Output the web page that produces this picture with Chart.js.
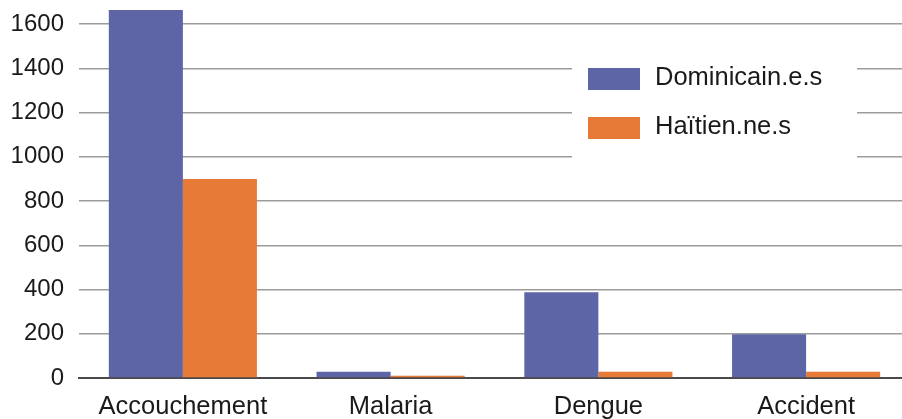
<!DOCTYPE html>
<html>
<head>
<meta charset="utf-8">
<script src="https://cdn.jsdelivr.net/npm/chart.js@4.4.1/dist/chart.umd.min.js"></script>
<style>
  html, body { margin: 0; padding: 0; background: #fff; overflow: hidden; }
  #wrap { width: 910px; height: 419px; position: relative; }
</style>
</head>
<body>
<div id="wrap"><canvas id="c"></canvas></div>
<script>
// Categories and series
const categories = ['Accouchement', 'Malaria', 'Dengue', 'Accident'];
const dominicains = [1700, 28, 388, 198];
const haitiens = [900, 10, 28, 28];
const seriesLabels = ['Dominicain.e.s', 'Haïtien.ne.s'];
const yTicks = [0, 200, 400, 600, 800, 1000, 1200, 1400, 1600];

const BLUE = '#5e65a6';
const ORANGE = '#e87a37';
const FONT = 'Liberation Sans, Arial, Helvetica, sans-serif';

// Legend drawn as a white box over the gridlines, inside the plot area
const boxLegend = {
  id: 'boxLegend',
  afterDatasetsDraw(chart) {
    const ctx = chart.ctx;
    ctx.save();
    ctx.fillStyle = '#ffffff';
    ctx.fillRect(572, 52, 285, 112);
    const items = chart.data.datasets.map(d => ({ label: d.label, color: d.backgroundColor }));
    items.forEach((it, i) => {
      const y = 68 + i * 49;
      ctx.fillStyle = it.color;
      ctx.fillRect(588, y, 52, 22);
      ctx.fillStyle = '#1a1a1a';
      ctx.font = '25.5px ' + FONT;
      ctx.textBaseline = 'middle';
      ctx.textAlign = 'left';
      ctx.fillText(it.label, 655, y + 10);
    });
    ctx.restore();
  }
};

new Chart(document.getElementById('c'), {
  type: 'bar',
  data: {
    labels: categories,
    datasets: [
      { label: seriesLabels[0], data: dominicains, backgroundColor: BLUE },
      { label: seriesLabels[1], data: haitiens, backgroundColor: ORANGE }
    ]
  },
  options: {
    responsive: true,
    maintainAspectRatio: false,
    animation: false,
    layout: { padding: { top: 10, left: 0, right: 0, bottom: 0 } },
    plugins: { legend: { display: false }, tooltip: { enabled: false } },
    datasets: { bar: { categoryPercentage: 0.713, barPercentage: 1.0, borderWidth: 0 } },
    scales: {
      x: {
        grid: { display: false, drawTicks: false },
        border: { display: true, color: '#4a4a4a', width: 2 },
        ticks: { color: '#1a1a1a', font: { family: FONT, size: 25.5 }, padding: 14, maxRotation: 0 },
        afterFit(s) { s.height = 41; }
      },
      y: {
        min: 0,
        max: 1664,
        afterBuildTicks(s) { s.ticks = yTicks.map(v => ({ value: v })); },
        grid: { color: '#9c9c9c', lineWidth: 1.5, drawTicks: false },
        border: { display: false },
        ticks: {
          color: '#1a1a1a',
          font: { family: FONT, size: 24, lineHeight: 0.5 },
          padding: 15,
          callback: v => String(v)
        },
        afterFit(s) { s.width = 79; s.paddingTop = 0; s.paddingBottom = 0; }
      }
    }
  },
  plugins: [boxLegend]
});
</script>
</body>
</html>
